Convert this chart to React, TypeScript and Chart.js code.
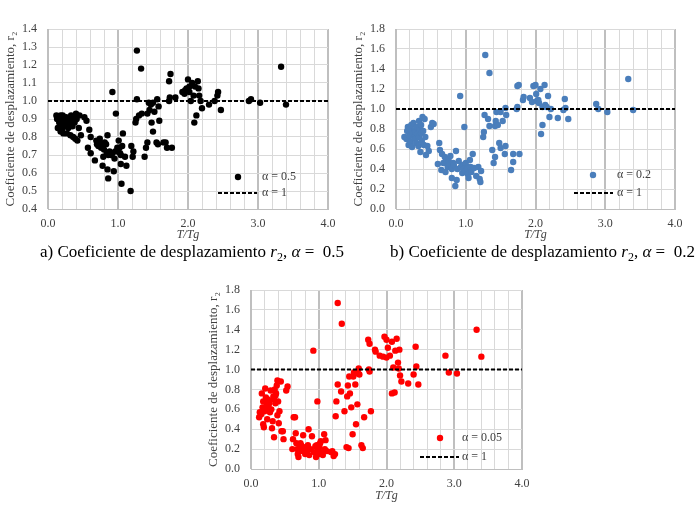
import { useEffect, useRef } from 'react';
import { Chart, registerables } from 'chart.js';

Chart.register(...registerables);

const SERIF = '"Liberation Serif", "Times New Roman", serif';

// eje x común
const xTicks = [0, 1, 2, 3, 4];

// a) alpha = 0.5
const tA = [
  0.12, 0.13, 0.14, 0.15, 0.16, 0.17, 0.18, 0.18, 0.19, 0.2, 0.21, 0.22, 0.22, 0.23, 0.24, 0.25, 0.26, 0.27, 0.27, 0.28,
  0.29, 0.3, 0.31, 0.32, 0.33, 0.34, 0.35, 0.36, 0.37, 0.38, 0.39, 0.4, 0.41, 0.42, 0.44, 0.45, 0.47, 0.52, 0.55,
  0.57, 0.59, 0.61, 0.61, 0.67, 0.69, 0.7, 0.72, 0.73, 0.74, 0.75, 0.76, 0.77, 0.78, 0.79, 0.8, 0.81, 0.83, 0.84, 0.85,
  0.85, 0.86, 0.86, 0.88, 0.9, 0.92, 0.92, 0.94, 0.95, 0.96, 0.97, 0.99, 1.0, 1.01, 1.02, 1.03, 1.04, 1.04, 1.05, 1.06,
  1.07, 1.1, 1.12, 1.18, 1.19, 1.21, 1.22,
  1.25, 1.26, 1.27, 1.27, 1.3, 1.33, 1.34, 1.38, 1.4, 1.42, 1.42, 1.44, 1.45, 1.47, 1.48, 1.5, 1.5, 1.52, 1.55, 1.56,
  1.57, 1.58, 1.59, 1.65, 1.68, 1.7, 1.73, 1.74, 1.73, 1.75, 1.77, 1.82,
  1.92, 1.95, 1.96, 1.98, 2.0, 2.02, 2.02, 2.04, 2.06, 2.08, 2.09, 2.1, 2.12, 2.14, 2.15, 2.16, 2.18, 2.2, 2.3, 2.38,
  2.42, 2.43, 2.47,
  2.87, 2.9, 3.03, 3.33, 3.4,
];
const rA = [
  0.92, 0.9, 0.85, 0.91, 0.88, 0.86, 0.92, 0.83, 0.89, 0.84, 0.92, 0.9, 0.82, 0.87, 0.88, 0.86, 0.91, 0.89, 0.82, 0.87,
  0.85, 0.9, 0.88, 0.81, 0.92, 0.89, 0.86, 0.8, 0.91, 0.88, 0.79, 0.93, 0.9, 0.78, 0.85, 0.92, 0.81, 0.91, 0.89,
  0.74, 0.84, 0.8, 0.71, 0.67, 0.78, 0.76, 0.75, 0.78, 0.79, 0.76, 0.74, 0.75, 0.64, 0.69, 0.73, 0.77, 0.76, 0.71, 0.81,
  0.62, 0.57, 0.7, 0.72, 0.7, 0.71, 1.05, 0.61, 0.68, 0.72, 0.93, 0.74, 0.72, 0.78, 0.74, 0.71, 0.65, 0.7, 0.54, 0.75,
  0.82, 0.69, 0.64, 0.5, 0.75, 0.69, 0.72,
  0.88, 0.9, 1.01, 1.28, 0.92, 1.18, 0.93, 0.69, 0.74, 0.77, 0.93, 0.99, 0.95, 0.98, 0.88, 0.83, 0.99, 0.94, 0.77, 1.01,
  0.76, 0.97, 0.89, 0.77, 0.77, 0.74, 1.0, 1.02, 1.11, 1.15, 0.74, 1.02,
  1.05, 1.04, 1.06, 1.07, 1.12, 1.05, 1.08, 1.0, 1.1, 1.03, 0.88, 1.08, 0.92, 1.11, 1.07, 1.03, 1.0, 0.96, 0.98, 1.0,
  1.03, 1.05, 0.95,
  1.0, 1.01, 0.99, 1.19, 0.98,
];

// b) alpha = 0.2
const tB = [
  0.12, 0.15, 0.16, 0.17, 0.18, 0.19, 0.2, 0.2, 0.21, 0.22, 0.23, 0.24, 0.25, 0.26, 0.27, 0.28, 0.28, 0.29, 0.3, 0.31,
  0.32, 0.33, 0.33, 0.34, 0.35, 0.36, 0.36, 0.37, 0.38, 0.39, 0.4, 0.41, 0.42, 0.43, 0.45, 0.47, 0.5, 0.52, 0.54,
  0.6, 0.62, 0.63, 0.65, 0.66, 0.68, 0.7, 0.71, 0.72, 0.73, 0.74, 0.75, 0.76, 0.77, 0.78, 0.8, 0.8, 0.82, 0.83, 0.85,
  0.86, 0.87, 0.88, 0.9, 0.92, 0.93, 0.95, 0.96, 0.97, 0.98, 0.99, 1.0, 1.01, 1.02, 1.03, 1.04, 1.05, 1.06, 1.07, 1.08,
  1.1, 1.12, 1.15, 1.18, 1.2, 1.21, 1.22,
  1.25, 1.26, 1.27, 1.28, 1.32, 1.34, 1.34, 1.38, 1.4, 1.42, 1.42, 1.43, 1.44, 1.46, 1.48, 1.5, 1.5, 1.53, 1.56, 1.57,
  1.57, 1.58, 1.65, 1.68, 1.68, 1.73, 1.74, 1.74, 1.76, 1.77, 1.82, 1.83,
  1.92, 1.95, 1.97, 2.0, 2.01, 2.02, 2.04, 2.05, 2.07, 2.08, 2.1, 2.1, 2.13, 2.14, 2.16, 2.18, 2.2, 2.22, 2.32, 2.4,
  2.42, 2.43, 2.47,
  2.87, 2.9, 3.03, 3.33, 3.4,
];
const rB = [
  0.72, 0.7, 0.78, 0.82, 0.64, 0.74, 0.8, 0.73, 0.67, 0.84, 0.62, 0.76, 0.86, 0.72, 0.79, 0.7, 0.77, 0.66, 0.82, 0.75,
  0.63, 0.88, 0.72, 0.8, 0.57, 0.84, 0.76, 0.68, 0.92, 0.78, 0.64, 0.9, 0.72, 0.54, 0.63, 0.58, 0.82, 0.86, 0.85,
  0.45, 0.66, 0.59, 0.39, 0.55, 0.46, 0.52, 0.37, 0.5, 0.48, 0.42, 0.5, 0.47, 0.45, 0.53, 0.4, 0.31, 0.46, 0.44, 0.23,
  0.58, 0.29, 0.4, 0.48, 1.13, 0.42, 0.36, 0.44, 0.4, 0.82, 0.38, 0.46, 0.38, 0.4, 0.35, 0.31, 0.42, 0.49, 0.42, 0.37,
  0.55, 0.41, 0.33, 0.42, 0.3, 0.27, 0.38,
  0.72, 0.77, 0.94, 1.54, 0.9, 1.36, 0.83, 0.59, 0.46, 0.52, 0.83, 0.88, 0.97, 0.84, 0.66, 0.61, 0.97, 0.88, 0.55, 0.63,
  1.01, 0.94, 0.39, 0.47, 0.55, 1.0, 1.02, 1.23, 1.24, 0.55, 1.09, 1.12,
  1.11, 1.07, 1.23, 1.24, 1.15, 1.08, 1.09, 1.06, 1.2, 0.75, 1.02, 0.84, 1.24, 1.04, 1.02, 1.13, 0.92, 1.0, 0.91, 0.99,
  1.1, 1.01, 0.9,
  1.05, 1.0, 0.97, 1.3, 0.99,
];

// c) alpha = 0.05
const tC = [
  0.12, 0.13, 0.15, 0.16, 0.17, 0.18, 0.18, 0.19, 0.2, 0.21, 0.22, 0.22, 0.23, 0.24, 0.25, 0.26, 0.26, 0.27, 0.28, 0.29,
  0.3, 0.31, 0.32, 0.33, 0.34, 0.34, 0.35, 0.36, 0.36, 0.37, 0.38, 0.39, 0.39, 0.4, 0.41, 0.42, 0.44, 0.45, 0.47, 0.48,
  0.52, 0.54,
  0.61, 0.62, 0.63, 0.65, 0.66, 0.67, 0.68, 0.69, 0.7, 0.72, 0.73, 0.74, 0.75, 0.77, 0.78, 0.8, 0.82, 0.82, 0.84, 0.85,
  0.86, 0.88, 0.9, 0.92, 0.93, 0.95, 0.96, 0.97, 0.98, 0.99, 1.0, 1.01, 1.02, 1.03, 1.05, 1.06, 1.08, 1.09, 1.1, 1.12,
  1.18, 1.2, 1.22, 1.24,
  1.25, 1.26, 1.28, 1.28, 1.33, 1.34, 1.38, 1.41, 1.42, 1.43, 1.44, 1.45, 1.46, 1.48, 1.5, 1.51, 1.52, 1.54, 1.55, 1.57,
  1.58, 1.59, 1.6, 1.63, 1.65, 1.67, 1.73, 1.74, 1.75, 1.75, 1.77, 1.83, 1.84,
  1.9, 1.95, 1.97, 2.0, 2.0, 2.02, 2.05, 2.08, 2.08, 2.1, 2.12, 2.13, 2.15, 2.17, 2.18, 2.19, 2.2, 2.22, 2.32, 2.4,
  2.43, 2.44, 2.47,
  2.87, 2.92, 3.04, 3.33, 3.4,
];
const rC = [
  0.52, 0.57, 0.55, 0.76, 0.62, 0.45, 0.68, 0.42, 0.58, 0.81, 0.72, 0.6, 0.65, 0.5, 0.7, 0.62, 0.68, 0.66, 0.57, 0.79,
  0.6, 0.41, 0.48, 0.73, 0.32, 0.7, 0.8, 0.66, 0.74, 0.76, 0.84, 0.54, 0.89, 0.68, 0.46, 0.58, 0.88, 0.38, 0.38, 0.3,
  0.79, 0.83,
  0.2, 0.3, 0.52, 0.52, 0.36, 0.26, 0.2, 0.15, 0.12, 0.22, 0.26, 0.24, 0.18, 0.34, 0.22, 0.15, 0.19, 0.16, 0.24, 0.4,
  0.14, 0.2, 0.33, 1.19, 0.17, 0.23, 0.12, 0.24, 0.68, 0.2, 0.15, 0.22, 0.26, 0.28, 0.17, 0.14, 0.35, 0.2, 0.29, 0.18,
  0.17, 0.18, 0.13, 0.15,
  0.53, 0.68, 0.85, 1.67, 0.78, 1.46, 0.58, 0.22, 0.73, 0.84, 0.21, 0.93, 0.76, 0.62, 0.35, 0.93, 0.97, 0.85, 0.45, 0.65,
  0.96, 1.01, 0.95, 0.24, 0.21, 0.52, 1.3, 1.0, 0.98, 1.26, 0.58, 1.2, 1.18,
  1.14, 1.13, 1.33, 1.3, 1.12, 1.22, 1.14, 1.28, 0.76, 1.02, 0.77, 1.19, 1.31, 1.07, 1.01, 1.2, 0.94, 0.88, 0.86, 0.95,
  1.23, 1.03, 0.85,
  1.14, 0.97, 0.96, 1.4, 1.13,
];

const isWhole = (v: number) => Math.abs(v - Math.round(v)) < 1e-6;

interface LegendSpot {
  dot: [number, number];
  line: [number, number, number];
  textX: number;
}

interface PanelProps {
  t: number[];
  r: number[];
  color: string;
  yMin: number;
  yMax: number;
  yStep: number;
  label: string;
  legend: LegendSpot;
  left: number;
  top: number;
  width: number;
  height: number;
  padRight: number;
  titleBottom: number;
}

function Panel(p: PanelProps) {
  const canvasRef = useRef<HTMLCanvasElement | null>(null);
  const chartRef = useRef<Chart | null>(null);

  useEffect(() => {
    if (!canvasRef.current) return;
    if (chartRef.current) chartRef.current.destroy();

    // leyenda dentro del área del gráfico (abajo a la derecha)
    const legendPlugin = {
      id: 'insideLegend',
      afterDraw(chart: Chart) {
        const { ctx, chartArea } = chart;
        const lg = p.legend;
        ctx.save();
        ctx.fillStyle = p.color;
        ctx.beginPath();
        ctx.arc(chartArea.right + lg.dot[0], chartArea.bottom + lg.dot[1], 3.2, 0, Math.PI * 2);
        ctx.fill();
        ctx.strokeStyle = '#000';
        ctx.lineWidth = 2;
        ctx.setLineDash([4, 2]);
        ctx.beginPath();
        ctx.moveTo(chartArea.right + lg.line[0], chartArea.bottom + lg.line[2]);
        ctx.lineTo(chartArea.right + lg.line[1], chartArea.bottom + lg.line[2]);
        ctx.stroke();
        ctx.setLineDash([]);
        ctx.fillStyle = '#404040';
        ctx.font = `12px ${SERIF}`;
        ctx.textBaseline = 'middle';
        ctx.fillText(`α = ${p.label}`, chartArea.right + lg.textX, chartArea.bottom + lg.dot[1]);
        ctx.fillText('α = 1', chartArea.right + lg.textX, chartArea.bottom + lg.line[2]);
        ctx.restore();
      },
    };

    const ctx = canvasRef.current.getContext('2d');
    if (!ctx) return;
    chartRef.current = new Chart(ctx, {
      type: 'scatter',
      data: {
        datasets: [
          {
            type: 'line',
            data: [{ x: xTicks[0], y: 1 }, { x: xTicks[xTicks.length - 1], y: 1 }],
            borderColor: '#000',
            borderWidth: 2,
            borderDash: [4, 2],
            pointRadius: 0,
          },
          {
            data: p.t.map((x, i) => ({ x, y: p.r[i] })),
            backgroundColor: p.color,
            borderColor: p.color,
            pointRadius: 3.2,
            pointBorderWidth: 0,
          },
        ],
      },
      options: {
        responsive: true,
        maintainAspectRatio: false,
        animation: false,
        layout: { padding: { top: 9, right: p.padRight, left: 0, bottom: 0 } },
        plugins: { legend: { display: false }, tooltip: { enabled: false } },
        scales: {
          x: {
            type: 'linear',
            min: xTicks[0],
            max: xTicks[xTicks.length - 1],
            afterFit: (s: any) => {
              s.height = 36;
              s.paddingLeft = 0;
              s.paddingRight = 0;
            },
            border: { color: '#bfbfbf' },
            grid: {
              drawTicks: false,
              color: (c: any) => (isWhole(c.tick.value) ? '#bfbfbf' : '#d9d9d9'),
              lineWidth: (c: any) => (isWhole(c.tick.value) ? 2 : 1),
            },
            ticks: {
              stepSize: 0.2,
              autoSkip: false,
              maxRotation: 0,
              padding: 8,
              color: '#404040',
              font: { family: SERIF, size: 12 },
              callback: (v: any) => (isWhole(Number(v)) ? Number(v).toFixed(1) : ''),
            },
            title: {
              display: true,
              text: 'T/Tg',
              color: '#404040',
              padding: { top: 0, bottom: p.titleBottom },
              font: { family: SERIF, size: 12, style: 'italic' },
            },
          },
          y: {
            min: p.yMin,
            max: p.yMax,
            afterFit: (s: any) => {
              s.width = 48;
              s.paddingTop = 0;
              s.paddingBottom = 0;
            },
            border: { color: '#bfbfbf' },
            grid: { drawTicks: false, color: '#d9d9d9' },
            ticks: {
              stepSize: p.yStep,
              autoSkip: false,
              padding: 11,
              color: '#404040',
              font: { family: SERIF, size: 12 },
              callback: (v: any) => Number(v).toFixed(1),
            },
            title: {
              display: true,
              text: 'Coeficiente de desplazamiento, r₂',
              color: '#404040',
              padding: { top: 3, bottom: 0 },
              font: { family: SERIF, size: 13 },
            },
          },
        },
      },
      plugins: [legendPlugin],
    });

    return () => {
      if (chartRef.current) {
        chartRef.current.destroy();
        chartRef.current = null;
      }
    };
  }, []);

  return (
    <div style={{ position: 'absolute', left: p.left, top: p.top, width: p.width, height: p.height }}>
      <canvas ref={canvasRef} />
    </div>
  );
}

function Caption({ letter, alpha, left }: { letter: string; alpha: string; left: number }) {
  return (
    <div
      style={{
        position: 'absolute',
        left,
        top: 242,
        fontFamily: SERIF,
        fontSize: 17,
        color: '#000',
        whiteSpace: 'nowrap',
      }}
    >
      {letter}) Coeficiente de desplazamiento <i>r</i>
      <sub style={{ fontSize: 12 }}>2</sub>, <i>α</i> = &nbsp;{alpha}
    </div>
  );
}

export default function App() {
  return (
    <div style={{ position: 'absolute', left: 0, top: 0, width: 700, height: 505, background: '#fff', overflow: 'hidden' }}>
      <Panel
        t={tA} r={rA} color="#000000" yMin={0.4} yMax={1.4} yStep={0.1} label="0.5"
        legend={{ dot: [-90, -32], line: [-110, -71, -16], textX: -66 }}
        left={0} top={20} width={340} height={225} padRight={12} titleBottom={3}
      />
      <Panel
        t={tB} r={rB} color="#4a7ebb" yMin={0} yMax={1.8} yStep={0.2} label="0.2"
        legend={{ dot: [-82, -34], line: [-101, -62, -16], textX: -58 }}
        left={348} top={20} width={340} height={225} padRight={13} titleBottom={3}
      />
      <Panel
        t={tC} r={rC} color="#ff0000" yMin={0} yMax={1.8} yStep={0.2} label="0.05"
        legend={{ dot: [-82, -31], line: [-102, -63, -12], textX: -60 }}
        left={203} top={281} width={332} height={224} padRight={13} titleBottom={2}
      />
      <Caption letter="a" alpha="0.5" left={40} />
      <Caption letter="b" alpha="0.2" left={390} />
    </div>
  );
}
